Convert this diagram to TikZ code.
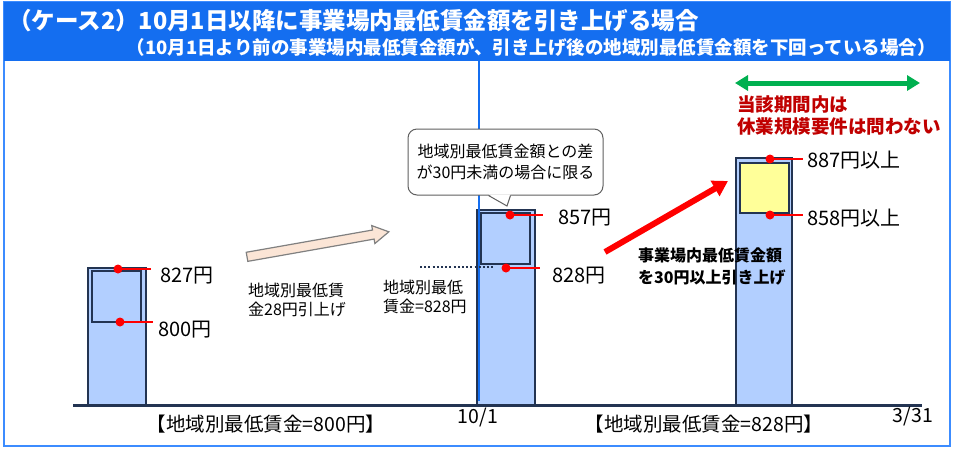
\documentclass[tikz,border=0pt]{standalone}
\usepackage{fontspec}
\setmainfont{Noto Sans CJK JP}
\usetikzlibrary{positioning}
\usetikzlibrary{arrows.meta}
\usetikzlibrary{shapes.arrows}
\definecolor{headblue}{RGB}{20,110,240}
\definecolor{frameblue}{RGB}{60,140,255}
\definecolor{barblue}{RGB}{178,207,255}
\definecolor{bardark}{RGB}{35,52,82}
\definecolor{peach}{RGB}{251,229,214}
\definecolor{softyellow}{RGB}{255,255,153}
\definecolor{darkred}{RGB}{192,0,0}
\definecolor{spangreen}{RGB}{0,176,80}
\tikzset{
  bar/.style={draw=bardark, line width=2.4pt, fill=barblue},
  inbox/.style={draw=bardark, line width=1.3pt},
  tick/.style={red, line width=2pt},
  amount/.style={anchor=west, inner sep=0pt, font=\fontsize{20}{22}\selectfont},
  note/.style={anchor=west, inner sep=0pt, align=left, font=\fontsize{16}{19.5}\selectfont},
  axislbl/.style={inner sep=0pt, font=\fontsize{19.5}{22}\selectfont},
  callout/.style={draw=gray!75!black, fill=white, line width=1pt, rounded corners=9pt,
    minimum width=195pt, minimum height=66pt, align=center, inner sep=0pt,
    font=\fontsize{16}{21}\selectfont},
  uparrow/.style={single arrow, draw=gray, fill=peach, line width=1.2pt, rotate=10,
    minimum height=144pt, inner sep=4pt, single arrow head extend=4.5pt,
    single arrow tip angle=60},
}

\begin{document}
\begin{tikzpicture}[x=1pt, y=-1pt]
  \useasboundingbox (0,0) rectangle (956,451);
  \draw[frameblue, line width=2pt, fill=white] (4,2) rectangle (950,446);
  \fill[headblue] (4,2) rectangle (950,61);
  \node[anchor=west, inner sep=0pt, text=white, font=\fontsize{23.5}{26}\selectfont\bfseries] (title) at (8,21)
    {（ケース2）10月1日以降に事業場内最低賃金額を引き上げる場合};
  \node[anchor=east, inner sep=0pt, text=white, font=\fontsize{18.5}{21}\selectfont\bfseries] (subtitle) at (936,47)
    {（10月1日より前の事業場内最低賃金額が、引き上げ後の地域別最低賃金額を下回っている場合）};

  % bars
  \draw[bar] (88,268) rectangle (146,405);
  \draw[inbox] (92,271) rectangle (141,322);
  \draw[bar] (477,210) rectangle (535,405);
  \draw[inbox] (481,213) rectangle (530,264);
  \draw[bar] (736,158) rectangle (792,405);
  \draw[inbox, fill=softyellow] (740,163) rectangle (789,213);
  \draw[bardark, line width=3pt] (73,405) -- (922,405);
  \draw[headblue, line width=1.1pt] (479,61) -- (479,401);

  % amounts
  \coordinate (p827) at (118,269); \coordinate (q827) at (151,269);
  \coordinate (p800) at (120,322); \coordinate (q800) at (153,322);
  \coordinate (p857) at (510,215); \coordinate (q857) at (543,215);
  \coordinate (p828) at (506,268); \coordinate (q828) at (540,268);
  \coordinate (p887) at (770,159); \coordinate (q887) at (803,159);
  \coordinate (p858) at (770,215); \coordinate (q858) at (803,215);
  \draw[tick] (p827) -- (q827);
  \draw[tick] (p800) -- (q800);
  \draw[tick] (p857) -- (q857);
  \draw[tick] (p828) -- (q828);
  \draw[tick] (p887) -- (q887);
  \draw[tick] (p858) -- (q858);
  \fill[red] (p827) circle (4.5pt) (p800) circle (4.5pt) (p857) circle (4.5pt)
    (p828) circle (4.5pt) (p887) circle (4.5pt) (p858) circle (4.5pt);
  \node[amount] (l827) at (160,276) {827円};
  \node[amount] (l800) at (158,330) {800円};
  \node[amount] (l857) at (558,218) {857円};
  \node[amount] (l828) at (552,276) {828円};
  \node[amount] (l887) at (807,160) {887円以上};
  \node[amount] (l858) at (807,218) {858円以上};

  % first raise
  \node[uparrow] (raise) at (314,245) {};
  \node[note] (raisetxt) at (248,300) {地域別最低賃\\金28円引上げ};
  \draw[bardark, line width=2pt, dash pattern=on 2pt off 2.2pt] (420,267) -- (495,267);
  \node[note] (newmin) at (383,297) {地域別最低\\賃金=828円};

  % callout
  \node[callout] (cond) at (505.5,162) {地域別最低賃金額との差\\が30円未満の場合に限る};
  \coordinate (tip) at (507,206);
  \fill[white] ([xshift=-17pt,yshift=1.2pt]cond.south) -- (tip) -- ([xshift=5pt,yshift=1.2pt]cond.south) -- cycle;
  \draw[gray!75!black, line width=1pt] ([xshift=-17pt]cond.south) -- (tip) -- ([xshift=5pt]cond.south);

  % second raise
  \coordinate (rstart) at (605,252);
  \coordinate (rend) at (728,181);
  \draw[red, line width=6pt, -{Triangle[length=15pt,width=17pt]}] (rstart) -- (rend);
  \node[note, font=\fontsize{16}{22}\selectfont\bfseries] (raisetxt2) at (638,266) {事業場内最低賃金額\\を30円以上引き上げ};

  % period
  \coordinate (gl) at (735,83);
  \coordinate (gr) at (920,83);
  \draw[spangreen, line width=5pt, {Triangle[length=13pt,width=15pt]}-{Triangle[length=13pt,width=15pt]}] (gl) -- (gr);
  \node[note, text=darkred, font=\fontsize{18.5}{22}\selectfont\bfseries] (period) at (737,116)
    {当該期間内は\\休業規模要件は問わない};

  % axis labels
  \node[axislbl] (min800) at (266,424) {【地域別最低賃金=800円】};
  \node[axislbl] (oct1) at (478,417) {10/1};
  \node[axislbl] (min828) at (704,424) {【地域別最低賃金=828円】};
  \node[axislbl] (mar31) at (913,416) {3/31};
\end{tikzpicture}
\end{document}
